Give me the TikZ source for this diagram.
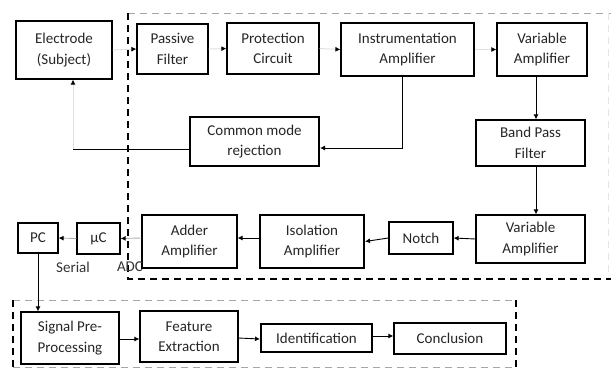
\documentclass[tikz,border=0pt]{standalone}
\usepackage{fontspec}
\setmainfont{Carlito}
\usetikzlibrary{arrows.meta,calc}
\begin{document}
\begin{tikzpicture}[x=1pt,y=-1pt,
  box/.style={draw=black, line width=1.2pt, align=center, inner sep=0pt,
    font=\fontsize{15}{20.5}\selectfont, text=black!85},
  thick box/.style={box, line width=2pt},
  arr/.style={line width=0.9pt, -{Latex[length=5pt,width=5pt,black]}},
  faint/.style={arr, draw=gray!25},
  dim/.style={arr, draw=gray!60},
  lab/.style={font=\fontsize{15}{20}\selectfont, text=black!80, inner sep=0pt}]
\useasboundingbox (0,0) rectangle (611,368);
\fill[white] (0,0) rectangle (611,368);
% dashed frames
\draw[gray!70, line width=0.9pt, dash pattern=on 7pt off 5pt] (128,13) -- (611,13);
\draw[gray!20, line width=0.8pt, dash pattern=on 7pt off 5pt] (608,13) -- (608,279);
\draw[black, line width=2pt, dash pattern=on 7pt off 5pt] (128,13) -- (128,279) -- (611,279);
\draw[gray!70, line width=0.9pt, dash pattern=on 7pt off 5pt] (13,300) -- (516,300);
\draw[black, line width=2pt, dash pattern=on 7pt off 5pt] (13,300) -- (13,368);
\draw[black, line width=2pt, dash pattern=on 7pt off 5pt] (516,300) -- (516,368);
\draw[gray!70, line width=0.9pt, dash pattern=on 7pt off 5pt] (13,367) -- (516,367);
% boxes
\node[box, minimum width=96pt, minimum height=58pt] (el) at (64,50) {Electrode\\(Subject)};
\node[box, minimum width=71pt, minimum height=50pt] (pf) at (172.5,49) {Passive\\Filter};
\node[box, minimum width=92pt, minimum height=51pt] (prc) at (273,48.5) {Protection\\Circuit};
\node[box, minimum width=133pt, minimum height=53pt] (ia) at (407.5,49.5) {Instrumentation\\Amplifier};
\node[box, minimum width=90pt, minimum height=53pt] (va1) at (542,49.5) {Variable\\Amplifier};
\node[box, minimum width=109pt, minimum height=46pt] (bpf) at (530.5,143) {Band Pass\\Filter};
\node[thick box, minimum width=129pt, minimum height=49pt] (cmr) at (254.5,141.5) {Common mode\\rejection};
\node[box, minimum width=109pt, minimum height=48pt] (va2) at (530.5,239) {Variable\\Amplifier};
\node[box, minimum width=64pt, minimum height=32pt] (notch) at (421,238) {Notch};
\node[thick box, minimum width=104pt, minimum height=53pt] (iso) at (312,241.5) {Isolation\\Amplifier};
\node[box, minimum width=95pt, minimum height=53pt] (add) at (189.5,241.5) {Adder\\Amplifier};
\node[box, minimum width=43pt, minimum height=31pt] (uc) at (98.5,238.5) {\textmu C};
\node[box, minimum width=40pt, minimum height=30pt] (pcb) at (38,238) {PC};
\node[box, minimum width=98pt, minimum height=52pt] (spp) at (70,338) {Signal Pre-\\Processing};
\node[box, minimum width=98pt, minimum height=51pt] (fe) at (189,336.5) {Feature\\Extraction};
\node[thick box, minimum width=111pt, minimum height=28pt] (idn) at (316.5,338) {Identification};
\node[box, minimum width=112pt, minimum height=31pt] (con) at (450,338.5) {Conclusion};
% labels
\node[lab] (serial) at (73,267) {Serial};
\node[lab] (adc) at (130,267) {ADC};
% connectors
\coordinate (fb) at (73,149);
\draw[faint] (el.east) -- (pf.west);
\draw[faint] (pf.east) -- (prc.west);
\draw[faint] (prc.east) -- (ia.west);
\draw[faint] (ia.east) -- (va1.west);
\draw[arr] ([xshift=-6pt]va1.south) -- ([xshift=5.5pt]bpf.north);
\draw[arr] ([xshift=5.5pt]bpf.south) -- ([xshift=5.5pt]va2.north);
\draw[arr] ([xshift=-5.5pt]ia.south) |- ([yshift=-6.5pt]cmr.east);
\draw[line width=0.9pt] ([yshift=-7.5pt]cmr.west) -- (fb);
\draw[faint] (fb) -- (fb |- el.south);
\draw[arr] (va2.west) -- (notch.east);
\draw[arr] (notch.west) -- (iso.east);
\draw[arr] ([yshift=3.5pt]iso.west) -- ([yshift=3.5pt]add.east);
\draw[dim] ([yshift=3.5pt]add.west) -- (uc.east);
\draw[dim] (uc.west) -- (pcb.east);
\draw[arr] (pcb.south) -- (pcb.south |- spp.north);
\draw[arr] ([yshift=-1pt]spp.east) -- (fe.west |- 0,339);
\draw[arr] ([yshift=-1.5pt]fe.east) -- ([yshift=-1pt]idn.west);
\draw[arr] ([yshift=2pt]idn.east) -- ([yshift=2.5pt]con.west);
\end{tikzpicture}
\end{document}
